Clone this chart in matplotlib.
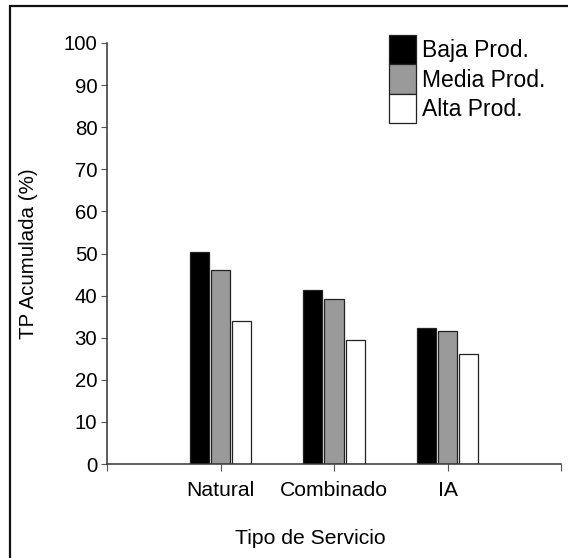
import numpy as np
import matplotlib
matplotlib.use("Agg")
import matplotlib.pyplot as plt
from matplotlib.patches import Rectangle

plt.rcParams['font.family'] = ['Liberation Sans', 'DejaVu Sans']

categorias = ["Natural", "Combinado", "IA"]
baja = [50.3, 41.4, 32.2]
media = [46.1, 39.2, 31.7]
alta = [34.0, 29.5, 26.1]
series = ["Baja Prod.", "Media Prod.", "Alta Prod."]
colores = ["#000000", "#9a9a9a", "#ffffff"]

W, H = 568, 558
fig = plt.figure(figsize=(W / 100, H / 100), dpi=100)
ax = fig.add_axes([107 / W, 94 / H, 454 / W, 421 / H])

x = np.arange(1, len(categorias) + 1)
ancho = 0.17
paso = 0.187
for i, (vals, nombre, c) in enumerate(zip([baja, media, alta], series, colores)):
    ax.bar(x + (i - 1) * paso, vals, ancho, color=c, edgecolor="#222222",
           linewidth=0.9, label=nombre)

ax.set_xlim(0, 4)
ax.set_ylim(0, 100)
ax.set_yticks(range(0, 101, 10))
ax.set_xticks([0, 1, 2, 3, 4])
ax.set_xticklabels(["", "Natural", "Combinado", "IA", ""])
ax.spines["top"].set_visible(False)
ax.spines["right"].set_visible(False)
for s in ["left", "bottom"]:
    ax.spines[s].set_linewidth(1.1)
    ax.spines[s].set_color("#333333")
ax.tick_params(axis="y", length=4, width=0.8, labelsize=14.7, pad=3, color="#555555")
ax.tick_params(axis="x", length=5, width=0.8, labelsize=15.2, pad=7, color="#555555")

ax.set_ylabel("TP Acumulada (%)", fontsize=14.8)
ax.yaxis.set_label_coords(-0.152, 0.5)
ax.set_xlabel("Tipo de Servicio", fontsize=15.2)
ax.xaxis.set_label_coords(0.447, -0.155)

ax.legend(loc="upper left", bbox_to_anchor=(389 / W, 1 - 35 / H),
          bbox_transform=fig.transFigure, frameon=False, fontsize=16.5,
          handlelength=1.18, handleheight=1.6, labelspacing=0.0,
          handletextpad=0.26, borderpad=0, borderaxespad=0)

marco = Rectangle((10 / W, -0.1), 2, 1.1 - 6 / H, transform=fig.transFigure,
                  fill=False, edgecolor="#111111", linewidth=1.6)
fig.patches.append(marco)

fig.savefig("out.png", dpi=100)
